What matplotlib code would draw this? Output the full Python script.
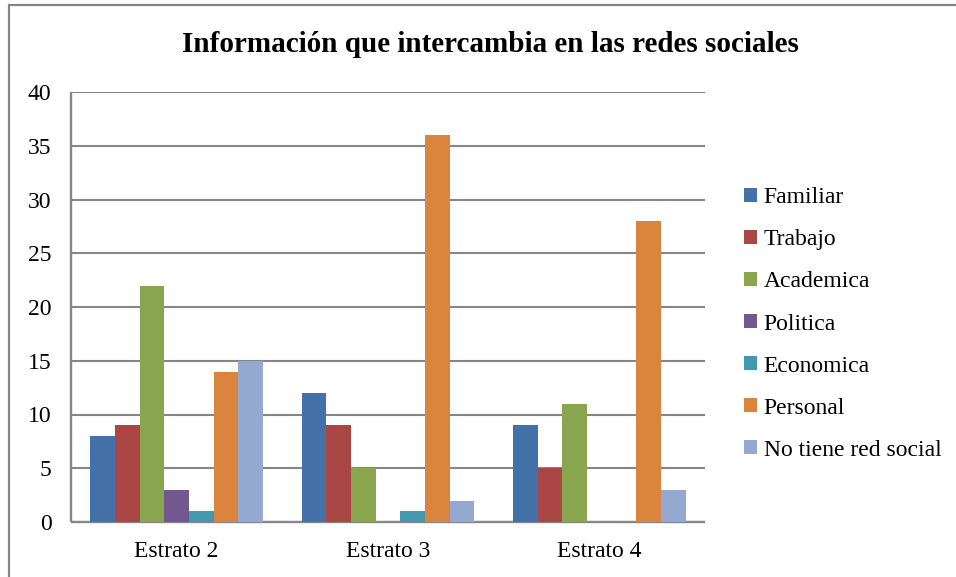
import numpy as np
import matplotlib.pyplot as plt
from matplotlib.patches import Rectangle

plt.rcParams['font.family'] = ['Liberation Serif', 'DejaVu Serif']

categorias = ["Estrato 2", "Estrato 3", "Estrato 4"]
series = ["Familiar", "Trabajo", "Academica", "Politica", "Economica",
          "Personal", "No tiene red social"]
valores = {
    "Familiar": [8, 12, 9],
    "Trabajo": [9, 9, 5],
    "Academica": [22, 5, 11],
    "Politica": [3, 0, 0],
    "Economica": [1, 1, 0],
    "Personal": [14, 36, 28],
    "No tiene red social": [15, 2, 3],
}
colores = ["#4472A8", "#AA4644", "#89A54E", "#71588F", "#4198AF",
           "#DB843D", "#93A9CF"]

fig = plt.figure(figsize=(9.56, 5.77), dpi=100)
ax = fig.add_axes([71 / 956, 55 / 577, 634 / 956, 430 / 577])

x = np.arange(len(categorias))
w = 0.1165
for i, s in enumerate(series):
    ax.bar(x + (i - 3) * w, valores[s], width=w, color=colores[i],
           label=s, zorder=3)

ax.set_xlim(-0.5, 2.5)
ax.set_ylim(0, 40)
ax.set_yticks(range(0, 41, 5))
ax.set_xticks(x)
ax.set_xticklabels(categorias)
ax.tick_params(length=0, labelsize=17)
ax.tick_params(axis='y', pad=14)
ax.tick_params(axis='x', pad=14)
ax.grid(axis='y', color='#868686', linewidth=1.5, zorder=0)
for sp in ['top', 'right']:
    ax.spines[sp].set_visible(False)
for sp in ['left', 'bottom']:
    ax.spines[sp].set_color('#868686')
    ax.spines[sp].set_linewidth(1.7)
    ax.spines[sp].set_capstyle('butt')

fig.text(490 / 956, 1 - 44 / 577, "Información que intercambia en las redes sociales",
         ha='center', va='center', fontsize=21, fontweight='bold')

ax.legend(loc='center left', bbox_to_anchor=(735 / 956, 1 - 324 / 577),
          bbox_transform=fig.transFigure, frameon=False, fontsize=17,
          handlelength=0.52, handleheight=0.52, handletextpad=0.3,
          labelspacing=0.89, borderaxespad=0)

# marco del grafico
fig.patches.append(Rectangle((9 / 956, -0.1), 1.2, 1.1 - 5 / 577,
                             transform=fig.transFigure, fill=False,
                             edgecolor='#868686', linewidth=1.6))

fig.savefig("out.png", dpi=100)
